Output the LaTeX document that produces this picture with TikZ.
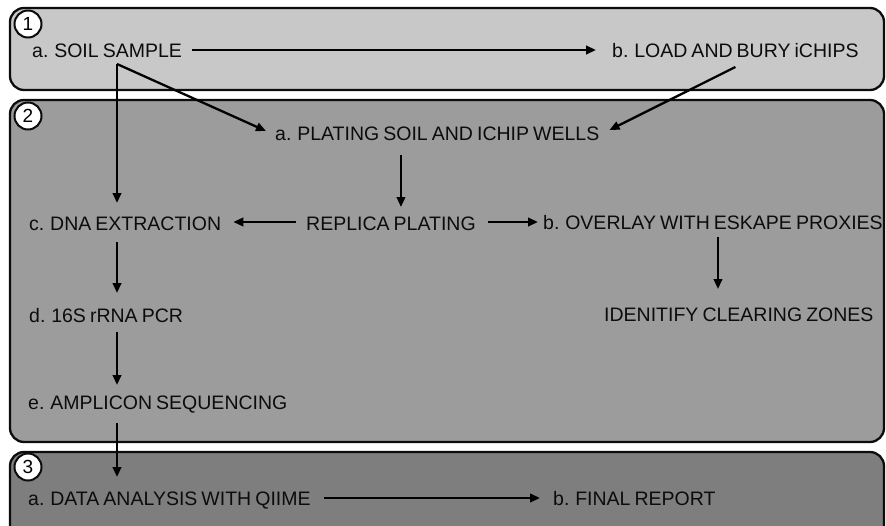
\documentclass[tikz,border=0pt]{standalone}
\usepackage{fontspec}
\setmainfont[WordSpace=0.75]{Liberation Sans}
\usetikzlibrary{arrows.meta,calc}
\definecolor{boxA}{RGB}{200,200,200}
\definecolor{boxB}{RGB}{156,156,156}
\definecolor{boxC}{RGB}{126,126,126}
\definecolor{ink}{RGB}{12,12,12}
\begin{document}
\begin{tikzpicture}[x=1pt,y=-1pt,
  panel/.style={draw=ink,line width=2.3pt,rounded corners=14pt},
  lbl/.style={anchor=base west,inner sep=0pt,text=ink,font=\fontsize{19.5}{23}\selectfont},
  num/.style={circle,draw=ink,fill=white,line width=2pt,minimum size=27pt,inner sep=0pt,font=\fontsize{19}{22}\selectfont},
  arr/.style={draw=black,line width=2.3pt,-{Triangle[length=10pt,width=8.5pt]}}]
\useasboundingbox (0,0) rectangle (886,525);
\clip (0,0) rectangle (886,525);
% panels
\draw[panel,fill=boxA] (10,8) rectangle (884,90);
\draw[panel,fill=boxB] (10,100) rectangle (884,442);
\draw[panel,fill=boxC] (10,452) rectangle (884,580);
\node[num] (n1) at (28,24) {1};
\node[num] (n2) at (28,116) {2};
\node[num] (n3) at (28,467) {3};
% labels
\node[lbl] (soil) at (32,57) {a. SOIL SAMPLE};
\node[lbl] (load) at (612,57) {b. LOAD AND BURY iCHIPS};
\node[lbl] (plate) at (275,140) {a. PLATING SOIL AND ICHIP WELLS};
\node[lbl] (dna) at (29,230) {c. DNA EXTRACTION};
\node[lbl] (replica) at (306,230) {REPLICA PLATING};
\node[lbl] (overlay) at (543,229) {b. OVERLAY WITH ESKAPE PROXIES};
\node[lbl] (identify) at (604,321) {IDENITIFY CLEARING ZONES};
\node[lbl] (pcr) at (29,322) {d. 16S rRNA PCR};
\node[lbl] (amp) at (28,409) {e. AMPLICON SEQUENCING};
\node[lbl] (data) at (28,505) {a. DATA ANALYSIS WITH QIIME};
\node[lbl] (final) at (553,505) {b. FINAL REPORT};
\coordinate (fork) at (117,64);
% connectors
\draw[arr] ($(soil.base east)+(10,-7)$) -- ($(load.base west)+(-16,-7)$);
\draw[arr] (fork) -- ($(fork |- dna.base)+(0,-27)$);
\draw[arr] (fork) -- ($(plate.base west)+(-9,-9)$);
\draw[arr] ($(load.base)+(0,10)$) -- ($(plate.base east)+(10,-10)$);
\draw[arr] ($(replica.base |- plate.base)+(10,15)$) -- ($(replica.base)+(10,-23)$);
\draw[arr] ($(replica.base west)+(-10,-8)$) -- ($(dna.base east)+(12,-8)$);
\draw[arr] ($(replica.base east)+(12,-8)$) -- ($(overlay.base west)+(-5,-7)$);
\draw[arr] ($(overlay.base)+(5,8)$) -- ($(overlay.base |- identify.base)+(5,-32)$);
\draw[arr] ($(fork |- dna.base)+(0,12)$) -- ($(fork |- pcr.base)+(0,-29)$);
\draw[arr] ($(fork |- pcr.base)+(0,10)$) -- ($(fork |- amp.base)+(0,-24)$);
\draw[arr] ($(fork |- amp.base)+(0,14)$) -- ($(fork |- data.base)+(0,-28)$);
\draw[arr] ($(data.base east)+(13,-7)$) -- ($(final.base west)+(-13,-7)$);
\end{tikzpicture}
\end{document}
